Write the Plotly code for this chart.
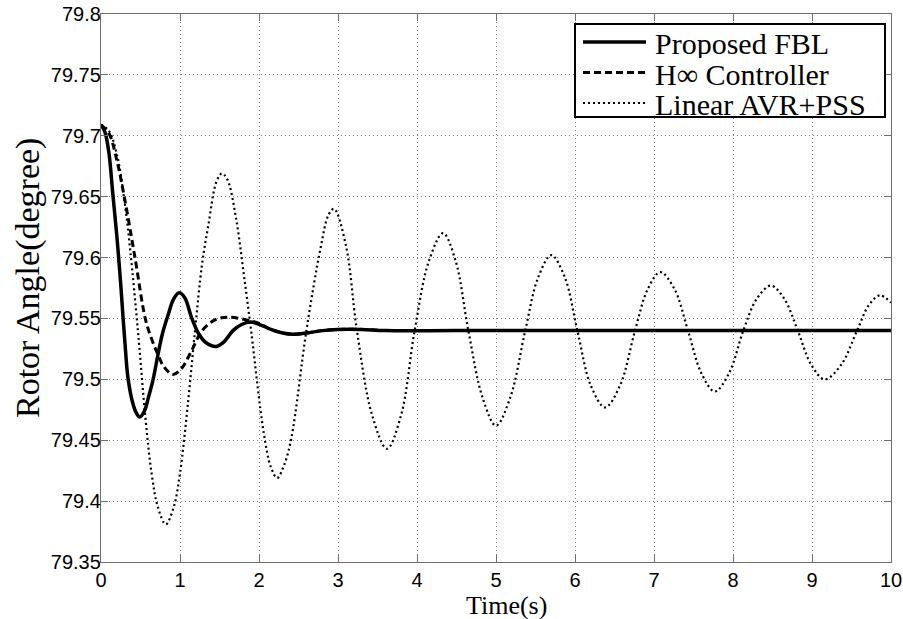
import plotly.graph_objects as go

# Rotor angle responses (degree) versus time (s)
t_fbl = [0, 0.05, 0.1, 0.15, 0.2, 0.25, 0.28, 0.31, 0.34, 0.4, 0.45, 0.49, 0.55, 0.6,
         0.66, 0.72, 0.78, 0.85, 0.92, 0.99, 1.06, 1.15, 1.24, 1.33, 1.46, 1.56, 1.67,
         1.78, 1.89, 2.01, 2.15, 2.3, 2.43, 2.6, 2.8, 3.0, 3.3, 3.6, 4.5, 6.0, 8.0, 10.0]
v_fbl = [79.709, 79.703, 79.686, 79.652, 79.618, 79.578, 79.55, 79.524, 79.502, 79.481,
         79.472, 79.469, 79.474, 79.485, 79.5, 79.52, 79.538, 79.553, 79.566, 79.571,
         79.567, 79.55, 79.537, 79.53, 79.527, 79.531, 79.54, 79.545, 79.547, 79.545,
         79.541, 79.538, 79.537, 79.538, 79.54, 79.541, 79.541, 79.54, 79.54, 79.54,
         79.54, 79.54]

t_hinf = [0, 0.1, 0.2, 0.3, 0.43, 0.56, 0.63, 0.71, 0.8, 0.91, 1.02, 1.15, 1.28, 1.45,
          1.63, 1.89, 2.0, 2.15, 2.3, 2.43, 2.6, 2.8, 3.0, 3.3, 3.6]
v_hinf = [79.709, 79.702, 79.68, 79.648, 79.6, 79.55, 79.535, 79.522, 79.51, 79.504,
          79.509, 79.524, 79.54, 79.549, 79.551, 79.548, 79.546, 79.541, 79.538, 79.537,
          79.538, 79.54, 79.541, 79.541, 79.54]

t_avr = [0, 0.1, 0.2, 0.3, 0.37, 0.47, 0.56, 0.64, 0.72, 0.82, 0.92, 1.0, 1.1, 1.19,
         1.28, 1.36, 1.46, 1.53, 1.6, 1.71, 1.8, 1.9, 2.06, 2.15, 2.23, 2.32, 2.41, 2.6,
         2.78, 2.88, 2.95, 3.1, 3.24, 3.43, 3.62, 3.8, 3.97, 4.15, 4.33, 4.49, 4.65, 4.83,
         5.0, 5.18, 5.37, 5.53, 5.7, 5.87, 6.03, 6.2, 6.38, 6.57, 6.76, 6.92, 7.08, 7.26,
         7.43, 7.6, 7.77, 7.95, 8.13, 8.3, 8.48, 8.65, 8.82, 8.99, 9.16, 9.37, 9.57, 9.72,
         9.86, 10.0]
v_avr = [79.709, 79.704, 79.685, 79.645, 79.606, 79.538, 79.47, 79.423, 79.395, 79.381,
         79.395, 79.423, 79.48, 79.54, 79.595, 79.627, 79.662, 79.669, 79.664, 79.632,
         79.59, 79.54, 79.456, 79.428, 79.419, 79.43, 79.452, 79.54, 79.608, 79.635,
         79.64, 79.61, 79.54, 79.471, 79.443, 79.471, 79.54, 79.597, 79.62, 79.597,
         79.54, 79.485, 79.462, 79.485, 79.54, 79.583, 79.602, 79.584, 79.54, 79.495,
         79.477, 79.495, 79.54, 79.574, 79.588, 79.574, 79.54, 79.505, 79.49, 79.505,
         79.54, 79.566, 79.577, 79.566, 79.54, 79.512, 79.50, 79.512, 79.54, 79.561,
         79.569, 79.563]

names = ["Proposed FBL", "H\u221e Controller", "Linear AVR+PSS"]

x_ticks = [0, 1, 2, 3, 4, 5, 6, 7, 8, 9, 10]
y_ticks = [79.35, 79.4, 79.45, 79.5, 79.55, 79.6, 79.65, 79.7, 79.75, 79.8]
y_tick_text = ["79.35", "79.4", "79.45", "79.5", "79.55", "79.6", "79.65", "79.7",
               "79.75", "79.8"]

W, H = 903, 619
L, R, T, B = 101, 12, 14, 57

styles = [
    dict(color="black", width=3.5, dash="solid"),
    dict(color="black", width=3, dash="7px,4px"),
    dict(color="black", width=2.2, dash="2px,3px"),
]

fig = go.Figure()
for t, v, name, st in zip([t_fbl, t_hinf, t_avr], [v_fbl, v_hinf, v_avr], names, styles):
    fig.add_trace(go.Scatter(
        x=t, y=v, mode="lines", name=name, showlegend=False,
        line=dict(color=st["color"], width=st["width"], dash=st["dash"],
                  shape="spline", smoothing=1.0),
    ))

axis_common = dict(
    automargin=False,
    showline=True, linecolor="#6e6e6e", linewidth=1.3, mirror="ticks",
    ticks="inside", ticklen=7, tickcolor="#6e6e6e", tickwidth=1,
    showgrid=True, gridcolor="#7a7a7a", gridwidth=1, griddash="1px,3px",
    zeroline=False, tickfont=dict(family="Liberation Sans, Arial", size=20, color="black"),
)

fig.update_layout(
    width=W, height=H,
    margin=dict(l=L, r=R, t=T, b=B, autoexpand=False),
    paper_bgcolor="white", plot_bgcolor="white",
    xaxis=dict(range=[0, 10], tickvals=x_ticks, **axis_common),
    yaxis=dict(range=[79.35, 79.8], tickvals=y_ticks, ticktext=y_tick_text,
               ticklabelstandoff=-5, **axis_common),
)

# pixel -> paper helpers for the legend and titles
pw, ph = W - L - R, H - T - B
def px(x):
    return (x - L) / pw
def py(y):
    return (H - B - y) / ph

serif = "Liberation Serif, Times New Roman, serif"

# axis titles
fig.add_annotation(text="Time(s)", xref="paper", yref="paper", x=px(507), y=py(605.5),
                   showarrow=False, font=dict(family=serif, size=26, color="black"),
                   borderpad=0, xanchor="center", yanchor="middle")
fig.add_annotation(text="Rotor Angle(degree)", xref="paper", yref="paper", x=px(28), y=py(278),
                   showarrow=False, textangle=-90,
                   font=dict(family=serif, size=34, color="black"),
                   xanchor="center", yanchor="middle")

# legend box
fig.add_shape(type="rect", xref="paper", yref="paper", x0=px(575), x1=px(885),
              y0=py(117), y1=py(24), line=dict(color="black", width=2), fillcolor="white",
              layer="above")
row_y = [42, 72.5, 103]
for name, st, ry in zip(names, styles, row_y):
    fig.add_shape(type="line", xref="paper", yref="paper", x0=px(583), x1=px(646),
                  y0=py(ry), y1=py(ry), layer="above",
                  line=dict(color=st["color"], width=st["width"], dash=st["dash"]))
    fig.add_annotation(text=name, xref="paper", yref="paper", x=px(654), y=py(ry + 1),
                       showarrow=False, xanchor="left", yanchor="middle",
                       height=30, borderpad=0,
                       font=dict(family=serif, size=30, color="black"))

fig.write_html("out.html")
